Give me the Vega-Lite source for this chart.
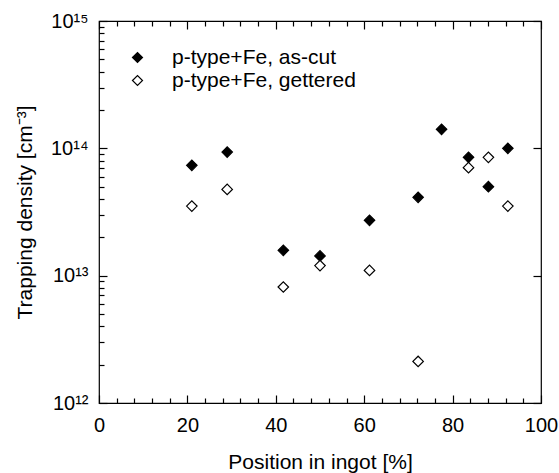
{
  "$schema": "https://vega.github.io/schema/vega-lite/v6.json",
  "width": 442,
  "height": 382,
  "autosize": {"type": "none"},
  "padding": {"left": 99, "top": 21, "right": 18, "bottom": 70},
  "background": "white",
  "config": {
    "view": {"stroke": "black", "strokeWidth": 1.2},
    "font": "Liberation Sans",
    "axis": {"domain": false, "grid": false, "ticks": true, "labelFlush": false, "labelOverlap": false, "labelFont": "Liberation Sans", "labelFontSize": 20, "labelColor": "black", "titleFont": "Liberation Sans", "titleFontSize": 21, "titleFontWeight": "normal", "titleColor": "black", "tickColor": "black", "tickWidth": 1.2, "tickOpacity": 1}
  },
  "data": {
    "values": [
      {"pos": 21, "density": 7.35e13, "series": "p-type+Fe, as-cut"},
      {"pos": 29, "density": 9.35e13, "series": "p-type+Fe, as-cut"},
      {"pos": 41.7, "density": 1.58e13, "series": "p-type+Fe, as-cut"},
      {"pos": 50, "density": 1.43e13, "series": "p-type+Fe, as-cut"},
      {"pos": 61.2, "density": 2.72e13, "series": "p-type+Fe, as-cut"},
      {"pos": 72.2, "density": 4.12e13, "series": "p-type+Fe, as-cut"},
      {"pos": 77.5, "density": 1.41e14, "series": "p-type+Fe, as-cut"},
      {"pos": 83.6, "density": 8.5e13, "series": "p-type+Fe, as-cut"},
      {"pos": 88.1, "density": 5.0e13, "series": "p-type+Fe, as-cut"},
      {"pos": 92.5, "density": 1.0e14, "series": "p-type+Fe, as-cut"},
      {"pos": 21, "density": 3.52e13, "series": "p-type+Fe, gettered"},
      {"pos": 29, "density": 4.76e13, "series": "p-type+Fe, gettered"},
      {"pos": 41.7, "density": 8.15e12, "series": "p-type+Fe, gettered"},
      {"pos": 50, "density": 1.2e13, "series": "p-type+Fe, gettered"},
      {"pos": 61.2, "density": 1.1e13, "series": "p-type+Fe, gettered"},
      {"pos": 72.2, "density": 2.12e12, "series": "p-type+Fe, gettered"},
      {"pos": 83.6, "density": 7.05e13, "series": "p-type+Fe, gettered"},
      {"pos": 88.1, "density": 8.5e13, "series": "p-type+Fe, gettered"},
      {"pos": 92.5, "density": 3.52e13, "series": "p-type+Fe, gettered"}
    ]
  },
  "layer": [
    {
      "mark": {"type": "point", "shape": "diamond", "size": 110, "stroke": "black", "strokeWidth": 1.2, "opacity": 1, "filled": false},
      "encoding": {
        "x": {
          "field": "pos", "type": "quantitative",
          "scale": {"domain": [0, 100], "nice": false, "zero": false},
          "axis": {
            "orient": "bottom",
            "title": "Position in ingot [%]",
            "titlePadding": 16,
            "values": [0, 20, 40, 60, 80, 100],
            "offset": -8, "tickSize": 8,
            "labelPadding": 12
          }
        },
        "y": {
          "field": "density", "type": "quantitative",
          "scale": {"type": "log", "domain": [1e12, 1e15], "nice": false},
          "axis": {
            "orient": "left",
            "title": "Trapping density [cm⁻³]",
            "titlePadding": 15,
            "values": [1e12, 1e13, 1e14, 1e15],
            "labelExpr": "datum.value == 1e12 ? '10¹²' : datum.value == 1e13 ? '10¹³' : datum.value == 1e14 ? '10¹⁴' : '10¹⁵'",
            "offset": -8, "tickSize": 8,
            "labelPadding": 11
          }
        },
        "fill": {
          "field": "series", "type": "nominal",
          "scale": {"domain": ["p-type+Fe, as-cut", "p-type+Fe, gettered"], "range": ["black", "white"]},
          "legend": {
            "orient": "none", "legendX": 28, "legendY": 26, "title": null,
            "symbolType": "diamond", "symbolSize": 100, "symbolStrokeColor": "black", "symbolStrokeWidth": 1.2,
            "labelFont": "Liberation Sans", "labelFontSize": 21, "labelColor": "black", "labelOffset": 24, "labelLimit": 400,
            "rowPadding": 1, "padding": 0
          }
        }
      }
    },
    {
      "mark": {"type": "point", "opacity": 0},
      "encoding": {
        "x": {
          "field": "pos", "type": "quantitative",
          "scale": {"domain": [0, 100], "nice": false, "zero": false},
          "axis": {
            "orient": "bottom", "title": null, "labels": false,
            "values": [4,8,12,16,24,28,32,36,44,48,52,56,64,68,72,76,84,88,92,96],
            "offset": -5, "tickSize": 5
          }
        },
        "y": {
          "field": "density", "type": "quantitative",
          "scale": {"type": "log", "domain": [1e12, 1e15], "nice": false},
          "axis": {
            "orient": "left", "title": null, "labels": false,
            "values": [2e12,3e12,4e12,5e12,6e12,7e12,8e12,9e12,2e13,3e13,4e13,5e13,6e13,7e13,8e13,9e13,2e14,3e14,4e14,5e14,6e14,7e14,8e14,9e14],
            "offset": -5, "tickSize": 5
          }
        }
      }
    },
    {
      "mark": {"type": "point", "opacity": 0},
      "encoding": {
        "x": {
          "field": "pos", "type": "quantitative",
          "scale": {"domain": [0, 100], "nice": false, "zero": false},
          "axis": {
            "orient": "top", "title": null, "labels": false,
            "values": [0, 20, 40, 60, 80, 100],
            "offset": -8, "tickSize": 8
          }
        },
        "y": {
          "field": "density", "type": "quantitative",
          "scale": {"type": "log", "domain": [1e12, 1e15], "nice": false},
          "axis": {
            "orient": "right", "title": null, "labels": false,
            "values": [1e12, 1e13, 1e14, 1e15],
            "offset": -8, "tickSize": 8
          }
        }
      }
    },
    {
      "mark": {"type": "point", "opacity": 0},
      "encoding": {
        "x": {
          "field": "pos", "type": "quantitative",
          "scale": {"domain": [0, 100], "nice": false, "zero": false},
          "axis": {
            "orient": "top", "title": null, "labels": false,
            "values": [4,8,12,16,24,28,32,36,44,48,52,56,64,68,72,76,84,88,92,96],
            "offset": -5, "tickSize": 5
          }
        }
      }
    }
  ],
  "resolve": {"scale": {"x": "independent", "y": "independent"}}
}
